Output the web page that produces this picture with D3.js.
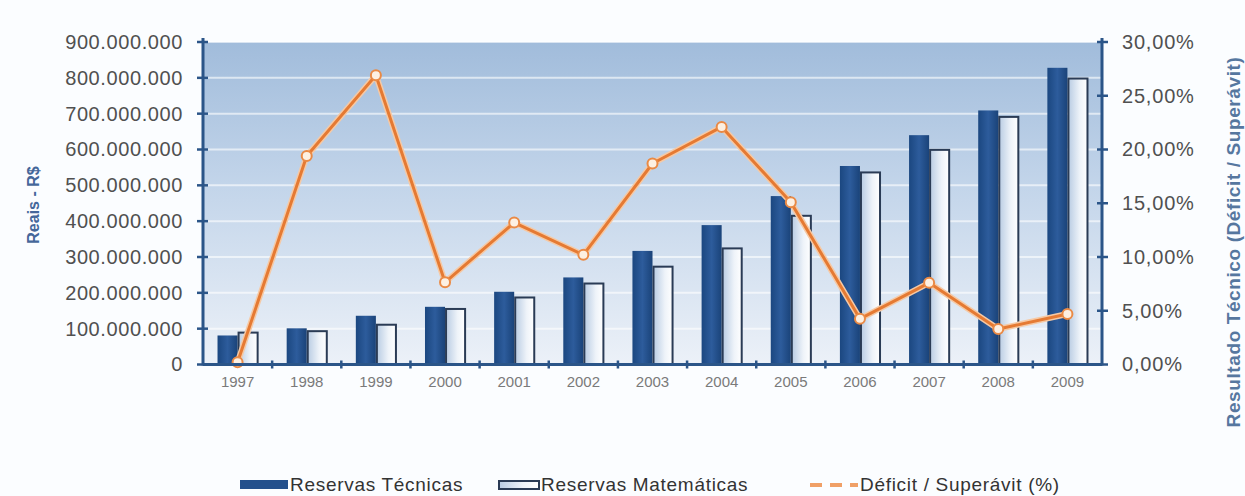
<!DOCTYPE html>
<html>
<head>
<meta charset="utf-8">
<script src="https://cdn.jsdelivr.net/npm/d3@7"></script>
<style>
  html, body { margin: 0; padding: 0; background: #fbfdff; }
  svg { display: block; }
  text { font-family: "Liberation Sans", Arial, sans-serif; }
</style>
</head>
<body>
<svg id="chart" width="1245" height="496"></svg>
<script>
// Reservas e resultado técnico por ano
const years = ["1997","1998","1999","2000","2001","2002","2003","2004","2005","2006","2007","2008","2009"];
const yearLabels = ["1997","1998","1999","2000","2001","2002","2003","2004","2005","2006","2007","2008","2009"];
const reservasTecnicas = [81e6, 101e6, 136e6, 161e6, 203e6, 243e6, 317e6, 389e6, 470e6, 554e6, 640e6, 709e6, 828e6];
const reservasMatematicas = [89e6, 93e6, 111e6, 155e6, 187e6, 226e6, 273e6, 324e6, 415e6, 536e6, 599e6, 691e6, 798e6];
const resultadoTecnico = [0.002, 0.194, 0.269, 0.0765, 0.132, 0.102, 0.187, 0.221, 0.151, 0.0425, 0.076, 0.033, 0.047];
const leftTicks = [0, 1e8, 2e8, 3e8, 4e8, 5e8, 6e8, 7e8, 8e8, 9e8];
const rightTicks = [0, 0.05, 0.10, 0.15, 0.20, 0.25, 0.30];
const seriesNames = ["Reservas Técnicas", "Reservas Matemáticas", "Déficit / Superávit (%)"];

const ptBR = d3.formatLocale({ decimal: ",", thousands: ".", grouping: [3], currency: ["R$", ""] });
const fmtReais = ptBR.format(",.0f");
const fmtPct = ptBR.format(".2%");

const svg = d3.select("#chart");
const plot = { left: 203, right: 1102, top: 42, bottom: 364.5 };

const x = d3.scaleBand().domain(years).range([plot.left, plot.right]).paddingInner(0).paddingOuter(0);
const groupW = x.bandwidth() * 0.58;
const xSub = d3.scaleBand().domain(["tec", "mat"]).range([-groupW / 2, groupW / 2]).paddingInner(0);
const yL = d3.scaleLinear().domain([0, 9e8]).range([plot.bottom, plot.top]);
const yR = d3.scaleLinear().domain([0, 0.30]).range([plot.bottom, plot.top]);

const defs = svg.append("defs");
const bg = defs.append("linearGradient").attr("id", "plotBg").attr("x1", 0).attr("y1", 0).attr("x2", 0).attr("y2", 1);
bg.append("stop").attr("offset", "0%").attr("stop-color", "#a1bcdb");
bg.append("stop").attr("offset", "45%").attr("stop-color", "#c3d5ea");
bg.append("stop").attr("offset", "100%").attr("stop-color", "#ecf1f8");

const darkG = defs.append("linearGradient").attr("id", "darkBar").attr("x1", 0).attr("y1", 0).attr("x2", 1).attr("y2", 0);
darkG.append("stop").attr("offset", "0%").attr("stop-color", "#1b4780");
darkG.append("stop").attr("offset", "50%").attr("stop-color", "#2d5c9c");
darkG.append("stop").attr("offset", "100%").attr("stop-color", "#1a4379");

const lightG = defs.append("linearGradient").attr("id", "lightBar").attr("x1", 0).attr("y1", 0).attr("x2", 1).attr("y2", 0);
lightG.append("stop").attr("offset", "0%").attr("stop-color", "#b9cce3");
lightG.append("stop").attr("offset", "60%").attr("stop-color", "#eef3f9");
lightG.append("stop").attr("offset", "100%").attr("stop-color", "#ffffff");

// plot background
svg.append("rect")
  .attr("x", plot.left).attr("y", plot.top)
  .attr("width", plot.right - plot.left).attr("height", plot.bottom - plot.top)
  .attr("fill", "url(#plotBg)");

// horizontal gridlines
svg.append("g").selectAll("line").data(leftTicks.slice(1))
  .join("line")
  .attr("x1", plot.left).attr("x2", plot.right)
  .attr("y1", d => yL(d)).attr("y2", d => yL(d))
  .attr("stroke", "#ffffff").attr("stroke-opacity", 0.6).attr("stroke-width", 2);

// bars
const groups = svg.append("g").selectAll("g").data(years).join("g")
  .attr("transform", d => `translate(${x(d) + x.bandwidth() / 2},0)`);

groups.append("rect")
  .attr("x", xSub("tec")).attr("width", xSub.bandwidth())
  .attr("y", (d, i) => yL(reservasTecnicas[i]))
  .attr("height", (d, i) => plot.bottom - yL(reservasTecnicas[i]))
  .attr("fill", "url(#darkBar)");

groups.append("rect")
  .attr("x", xSub("mat") + 1).attr("width", xSub.bandwidth() - 1)
  .attr("y", (d, i) => yL(reservasMatematicas[i]))
  .attr("height", (d, i) => plot.bottom - yL(reservasMatematicas[i]))
  .attr("fill", "url(#lightBar)")
  .attr("stroke", "#2a3b55").attr("stroke-width", 2);

// line for resultado técnico
const line = d3.line()
  .x((d, i) => x(years[i]) + x.bandwidth() / 2)
  .y(d => yR(d));

svg.append("path").datum(resultadoTecnico)
  .attr("d", line).attr("fill", "none")
  .attr("stroke", "#f6c9a4").attr("stroke-width", 6).attr("stroke-linejoin", "round");
svg.append("path").datum(resultadoTecnico)
  .attr("d", line).attr("fill", "none")
  .attr("stroke", "#e57a33").attr("stroke-width", 3).attr("stroke-linejoin", "round");

svg.append("g").selectAll("circle").data(resultadoTecnico).join("circle")
  .attr("cx", (d, i) => x(years[i]) + x.bandwidth() / 2)
  .attr("cy", d => yR(d))
  .attr("r", 5)
  .attr("fill", "#fdf0e2").attr("stroke", "#ea8a45").attr("stroke-width", 2);

// axes
const axisColor = "#2b5588";

const leftAxis = svg.append("g").attr("transform", `translate(${plot.left},0)`)
  .call(d3.axisLeft(yL).tickValues(leftTicks).tickFormat(fmtReais).tickSize(0).tickPadding(20));
leftAxis.select(".domain").remove();
leftAxis.selectAll("text").attr("fill", "#505050").attr("font-size", 20).attr("letter-spacing", 0.6);
leftAxis.append("line").attr("x1", 0).attr("x2", 0).attr("y1", plot.top - 4).attr("y2", plot.bottom + 1)
  .attr("stroke", axisColor).attr("stroke-width", 3);
leftAxis.selectAll(".tk").data(leftTicks).join("line").attr("class", "tk")
  .attr("x1", -6).attr("x2", 5).attr("y1", d => yL(d)).attr("y2", d => yL(d))
  .attr("stroke", axisColor).attr("stroke-width", 2.5);

const rightAxis = svg.append("g").attr("transform", `translate(${plot.right},0)`)
  .call(d3.axisRight(yR).tickValues(rightTicks).tickFormat(fmtPct).tickSize(0).tickPadding(20));
rightAxis.select(".domain").remove();
rightAxis.selectAll("text").attr("fill", "#505050").attr("font-size", 20).attr("letter-spacing", 0.8);
rightAxis.append("line").attr("x1", 0).attr("x2", 0).attr("y1", plot.top - 4).attr("y2", plot.bottom + 1)
  .attr("stroke", axisColor).attr("stroke-width", 3);
rightAxis.selectAll(".tk").data(rightTicks).join("line").attr("class", "tk")
  .attr("x1", -5).attr("x2", 6).attr("y1", d => yR(d)).attr("y2", d => yR(d))
  .attr("stroke", axisColor).attr("stroke-width", 2.5);

const bottomAxis = svg.append("g").attr("transform", `translate(0,${plot.bottom})`)
  .call(d3.axisBottom(x).tickFormat((d, i) => yearLabels[i]).tickSize(0).tickPadding(12));
bottomAxis.select(".domain").remove();
bottomAxis.selectAll("text").attr("fill", "#7a7a7a").attr("font-size", 15);
bottomAxis.append("line").attr("x1", plot.left).attr("x2", plot.right).attr("y1", 0).attr("y2", 0)
  .attr("stroke", axisColor).attr("stroke-width", 3);
bottomAxis.selectAll(".tk").data(years.slice(1)).join("line").attr("class", "tk")
  .attr("x1", d => x(d)).attr("x2", d => x(d)).attr("y1", -4).attr("y2", 4)
  .attr("stroke", axisColor).attr("stroke-width", 2.5);

// axis titles
svg.append("text")
  .attr("transform", "translate(39,205) rotate(-90)")
  .attr("text-anchor", "middle")
  .attr("font-size", 16).attr("font-weight", "bold").attr("fill", "#45679a")
  .text("Reais - R$");

svg.append("text")
  .attr("transform", "translate(1240,242) rotate(-90)")
  .attr("text-anchor", "middle")
  .attr("font-size", 19).attr("font-weight", "bold").attr("fill", "#56779f")
  .attr("letter-spacing", 0.6)
  .text("Resultado Técnico (Déficit / Superávit)");

// legend
const legend = svg.append("g").attr("transform", "translate(0,485)");
legend.append("rect").attr("x", 240).attr("y", -5).attr("width", 48).attr("height", 9).attr("fill", "#24508c");
legend.append("text").attr("x", 290).attr("y", 6).attr("font-size", 19).attr("letter-spacing", 0.7).attr("fill", "#333").text(seriesNames[0]);

legend.append("rect").attr("x", 499).attr("y", -4).attr("width", 40).attr("height", 8)
  .attr("fill", "url(#lightBar)").attr("stroke", "#2a3b55").attr("stroke-width", 2);
legend.append("text").attr("x", 541).attr("y", 6).attr("font-size", 19).attr("letter-spacing", 0.7).attr("fill", "#333").text(seriesNames[1]);

legend.append("line").attr("x1", 810).attr("x2", 858).attr("y1", 0).attr("y2", 0)
  .attr("stroke", "#f0a067").attr("stroke-width", 4).attr("stroke-dasharray", "12,8");
legend.append("text").attr("x", 860).attr("y", 6).attr("font-size", 19).attr("letter-spacing", 0.7).attr("fill", "#333").text(seriesNames[2]);
</script>
</body>
</html>
